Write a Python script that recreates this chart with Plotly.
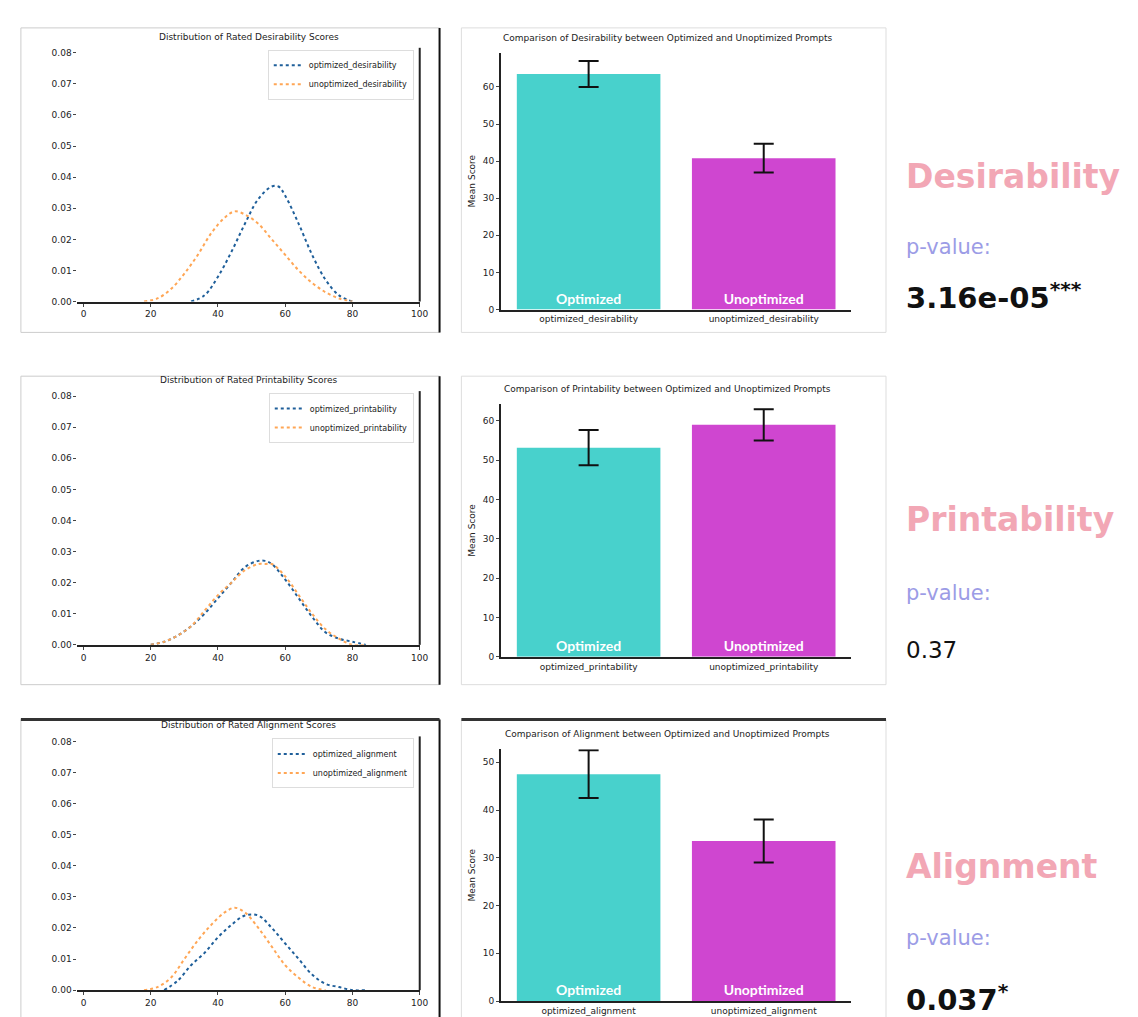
import plotly.graph_objects as go

W, H = 1138, 1017

# ---------------- data ----------------
metrics = ["Desirability", "Printability", "Alignment"]
p_numbers = ["3.16e-05", "0.37", "0.037"]
p_stars = ["***", "", "*"]
p_bold = [True, False, True]

kde_titles = ["Distribution of Rated Desirability Scores",
              "Distribution of Rated Printability Scores",
              "Distribution of Rated Alignment Scores"]
bar_titles = ["Comparison of Desirability between Optimized and Unoptimized Prompts",
              "Comparison of Printability between Optimized and Unoptimized Prompts",
              "Comparison of Alignment between Optimized and Unoptimized Prompts"]
opt_names = ["optimized_desirability", "optimized_printability", "optimized_alignment"]
unopt_names = ["unoptimized_desirability", "unoptimized_printability", "unoptimized_alignment"]
bar_labels = ["Optimized", "Unoptimized"]

# KDE curves
des_opt_x = [32, 36, 40, 44, 48, 52, 56, 58, 60, 64, 68, 72, 76, 80]
des_opt_y = [0.000, 0.002, 0.008, 0.016, 0.025, 0.033, 0.037, 0.037, 0.034, 0.025, 0.015, 0.007, 0.002, 0.000]
des_un_x = [18, 22, 26, 30, 34, 38, 42, 45, 48, 52, 56, 60, 64, 68, 72, 76, 80]
des_un_y = [0.000, 0.001, 0.004, 0.009, 0.015, 0.022, 0.027, 0.029, 0.028, 0.025, 0.020, 0.015, 0.010, 0.006, 0.003, 0.001, 0.000]

pri_opt_x = [20, 24, 28, 32, 36, 40, 44, 48, 52, 54, 56, 60, 64, 68, 72, 76, 80, 84]
pri_opt_y = [0.000, 0.001, 0.003, 0.006, 0.010, 0.015, 0.020, 0.025, 0.027, 0.027, 0.026, 0.021, 0.015, 0.009, 0.004, 0.002, 0.001, 0.000]
pri_un_x = [20, 24, 28, 32, 36, 40, 44, 48, 52, 54, 56, 60, 64, 68, 72, 76, 80, 84]
pri_un_y = [0.000, 0.001, 0.003, 0.006, 0.011, 0.016, 0.020, 0.024, 0.026, 0.026, 0.026, 0.022, 0.016, 0.010, 0.005, 0.002, 0.000, 0.000]

ali_opt_x = [24, 28, 32, 36, 40, 44, 48, 52, 56, 60, 64, 68, 72, 76, 80, 84]
ali_opt_y = [0.000, 0.003, 0.008, 0.012, 0.017, 0.021, 0.024, 0.024, 0.020, 0.015, 0.010, 0.005, 0.002, 0.001, 0.000, 0.000]
ali_un_x = [18, 22, 26, 30, 34, 38, 42, 45, 48, 52, 56, 60, 64, 68, 72]
ali_un_y = [0.000, 0.001, 0.004, 0.010, 0.016, 0.021, 0.025, 0.0265, 0.025, 0.020, 0.014, 0.008, 0.004, 0.001, 0.000]

kde_opt = [(des_opt_x, des_opt_y), (pri_opt_x, pri_opt_y), (ali_opt_x, ali_opt_y)]
kde_un = [(des_un_x, des_un_y), (pri_un_x, pri_un_y), (ali_un_x, ali_un_y)]

# bar means and errors
bar_means = [[63.5, 40.8], [53.2, 59.0], [47.5, 33.5]]
bar_errs = [[3.5, 3.9], [4.5, 4.0], [5.0, 4.5]]
bar_ymax = [69.2, 64.3, 52.7]

kde_xticks = [0, 20, 40, 60, 80, 100]
kde_yticks = [0.00, 0.01, 0.02, 0.03, 0.04, 0.05, 0.06, 0.07, 0.08]

# ---------------- layout helpers (pixel boxes) ----------------
def px(x):
    return x / W

def py(y):
    return 1 - y / H

kde_box = [(70, 415, 40, 295), (70, 415, 385, 640), (70, 415, 732, 987)]
bar_box = [(497, 850, 45, 303), (497, 850, 398, 652), (497, 850, 745, 998)]

BLUE = "#1f5f9a"
ORANGE = "#ffa655"
TEAL = "#48D1CC"
MAG = "#CF46D0"

fig = go.Figure()
layout = dict(width=W, height=H, margin=dict(l=0, r=0, t=0, b=0),
              paper_bgcolor="white", plot_bgcolor="white", showlegend=True,
              font=dict(family="DejaVu Sans", size=9, color="#222"))
annotations = []
shapes = []

for i in range(3):
    kx = 2 * i + 1
    bx = 2 * i + 2
    xa = "x" if kx == 1 else f"x{kx}"
    ya = "y" if kx == 1 else f"y{kx}"
    xb = f"x{bx}"
    yb = f"y{bx}"
    leg = "legend" if i == 0 else f"legend{i+1}"

    # KDE traces
    ox, oy = kde_opt[i]
    ux, uy = kde_un[i]
    fig.add_trace(go.Scatter(x=ox, y=oy, mode="lines", name=opt_names[i],
                             line=dict(color=BLUE, dash="dot", width=2, shape="spline"),
                             xaxis=xa, yaxis=ya, legend=leg))
    fig.add_trace(go.Scatter(x=ux, y=uy, mode="lines", name=unopt_names[i],
                             line=dict(color=ORANGE, dash="dot", width=2, shape="spline"),
                             xaxis=xa, yaxis=ya, legend=leg))

    x0, x1, y0, y1 = kde_box[i]
    layout["xaxis" if kx == 1 else f"xaxis{kx}"] = dict(
        domain=[px(x0), px(x1)], anchor=ya, range=[-1.8, 100],
        tickvals=kde_xticks, showgrid=False, zeroline=False,
        showline=True, linecolor="#222", linewidth=2, mirror=False,
        ticks="outside", ticklen=3, tickfont=dict(size=9, color="#222"))
    layout["yaxis" if kx == 1 else f"yaxis{kx}"] = dict(
        domain=[py(y1), py(y0)], anchor=xa, range=[0, 0.0816],
        tickvals=kde_yticks, tickformat=".2f", showgrid=False, zeroline=False,
        showline=False, ticks="outside", ticklen=3, tickfont=dict(size=9, color="#222"))
    # right spine of KDE plot
    shapes.append(dict(type="line", xref="paper", yref="paper",
                       x0=px(x1), x1=px(x1), y0=py(y1), y1=py(y0),
                       line=dict(color="#222", width=2)))
    layout[leg] = dict(x=px(x1 - 6), y=py(y0 + 2), xanchor="right", yanchor="top",
                       bgcolor="rgba(255,255,255,0.8)", bordercolor="#ddd", borderwidth=1,
                       font=dict(size=8, color="#222"), tracegroupgap=0,
                       itemwidth=30)
    annotations.append(dict(text=kde_titles[i], xref="paper", yref="paper",
                            x=px((x0 + x1) / 2), y=py(y0 - 4), xanchor="center",
                            yanchor="bottom", showarrow=False,
                            font=dict(size=9, color="#222")))

    # Bar traces
    fig.add_trace(go.Bar(x=[opt_names[i], unopt_names[i]], y=bar_means[i],
                         marker=dict(color=[TEAL, MAG], line=dict(width=0)),
                         width=0.82, text=[f"<b>{t}</b>" for t in bar_labels],
                         textposition="inside",
                         insidetextanchor="start", textangle=0,
                         textfont=dict(size=14, color="white", family="Lato"),
                         error_y=dict(type="data", array=bar_errs[i], color="#111",
                                      thickness=2, width=10),
                         xaxis=xb, yaxis=yb, showlegend=False))
    bx0, bx1, by0, by1 = bar_box[i]
    layout[f"xaxis{bx}"] = dict(domain=[px(bx0), px(bx1)], anchor=yb,
                                range=[-0.5, 1.5], showgrid=False, zeroline=False,
                                showline=True, linecolor="#222", linewidth=2,
                                tickfont=dict(size=9, color="#222"), ticks="")
    layout[f"yaxis{bx}"] = dict(domain=[py(by1), py(by0)], anchor=xb,
                                range=[0, bar_ymax[i]], dtick=10, showgrid=False,
                                zeroline=False, showline=True, linecolor="#222",
                                linewidth=2, ticks="outside", ticklen=3,
                                title=dict(text="Mean Score", font=dict(size=9), standoff=6),
                                tickfont=dict(size=9, color="#222"))
    annotations.append(dict(text=bar_titles[i], xref="paper", yref="paper",
                            x=px(665), y=py(by0 - 8), xanchor="center",
                            yanchor="bottom", showarrow=False,
                            font=dict(size=9, color="#222")))

    # right-hand texts
    t_y = [169, 514, 863][i]
    p_y = [240, 588, 935][i]
    v_y = [289, 645, 995][i]
    annotations.append(dict(text=f"<b>{metrics[i]}</b>", xref="paper", yref="paper",
                            x=px(903), y=py(t_y), xanchor="left", yanchor="middle",
                            showarrow=False,
                            font=dict(size=33, color="#F2A7B5", family="DejaVu Sans")))
    annotations.append(dict(text="p-value:", xref="paper", yref="paper",
                            x=px(903), y=py(p_y), xanchor="left", yanchor="middle",
                            showarrow=False,
                            font=dict(size=21, color="#9C9CE6", family="DejaVu Sans")))
    if p_bold[i]:
        ptxt = f"<b>{p_numbers[i]}</b><sup><b>{p_stars[i]}</b></sup>"
        psize = 29
    else:
        ptxt = p_numbers[i]
        psize = 23
    annotations.append(dict(text=ptxt, xref="paper", yref="paper",
                            x=px(903), y=py(v_y), xanchor="left", yanchor="middle",
                            showarrow=False,
                            font=dict(size=psize, color="#111", family="DejaVu Sans")))

# panel frames
frames = [(13, 435, 20, 326, "#cccccc"), (13, 435, 370, 680, "#cccccc"),
          (13, 435, 715, 1017, "#cccccc")]
for (a, b, c, d, col) in frames:
    shapes.append(dict(type="rect", xref="paper", yref="paper",
                       x0=px(a), x1=px(b), y0=py(d), y1=py(c),
                       line=dict(color=col, width=1)))
    shapes.append(dict(type="line", xref="paper", yref="paper",
                       x0=px(b), x1=px(b), y0=py(d), y1=py(c),
                       line=dict(color="#111", width=2)))
bframes = [(457, 885, 20, 326), (457, 885, 370, 680), (457, 885, 715, 1017)]
for (a, b, c, d) in bframes:
    shapes.append(dict(type="rect", xref="paper", yref="paper",
                       x0=px(a), x1=px(b), y0=py(d), y1=py(c),
                       line=dict(color="#dddddd", width=1)))
# heavy top lines on bottom row
shapes.append(dict(type="line", xref="paper", yref="paper", x0=px(13), x1=px(435),
                   y0=py(715), y1=py(715), line=dict(color="#333", width=3)))
shapes.append(dict(type="line", xref="paper", yref="paper", x0=px(457), x1=px(885),
                   y0=py(715), y1=py(715), line=dict(color="#333", width=3)))

layout["annotations"] = annotations
layout["shapes"] = shapes
layout["bargap"] = 0.18
fig.update_layout(**layout)
fig.write_html("out.html")
